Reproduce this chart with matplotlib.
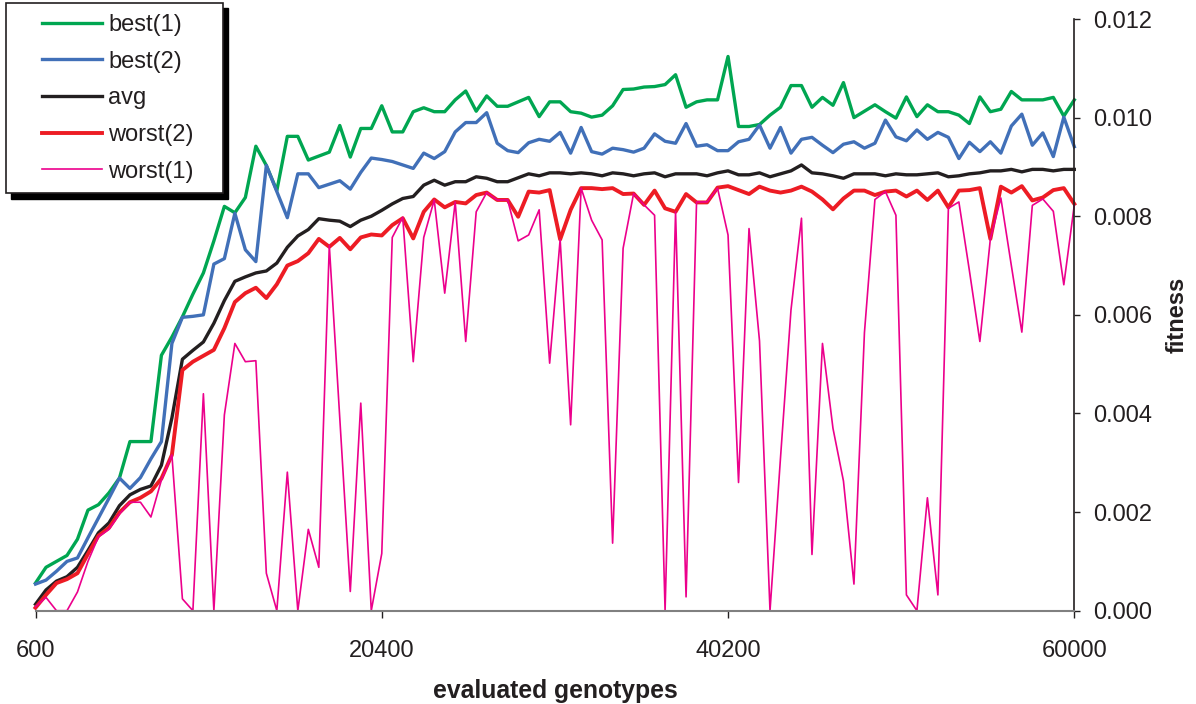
import numpy as np
import matplotlib
matplotlib.use("Agg")
import matplotlib.pyplot as plt
from matplotlib.patches import Rectangle

plt.rcParams["font.family"] = ["Liberation Sans", "DejaVu Sans"]

TEXT = "#231f20"

# x axis: evaluated genotypes, one sample every 600
evaluated = np.arange(600, 60001, 600)

# fitness values (units of 0.001)
best1 = [0.56, 0.88, 1.00, 1.12, 1.45, 2.04, 2.15, 2.39, 2.69, 3.43,
         3.43, 3.43, 5.18, 5.55, 5.96, 6.42, 6.85, 7.50, 8.20, 8.07,
         8.38, 9.42, 9.03, 8.52, 9.62, 9.62, 9.14, 9.22, 9.30, 9.84,
         9.20, 9.78, 9.78, 10.24, 9.71, 9.71, 10.12, 10.20, 10.12, 10.12,
         10.36, 10.54, 10.13, 10.44, 10.23, 10.23, 10.32, 10.41, 10.02, 10.32,
         10.32, 10.12, 10.09, 10.01, 10.05, 10.24, 10.57, 10.58, 10.62, 10.63,
         10.67, 10.87, 10.21, 10.32, 10.36, 10.36, 11.24, 9.82, 9.82, 9.86,
         10.05, 10.21, 10.65, 10.65, 10.21, 10.41, 10.25, 10.71, 10.00, 10.13,
         10.26, 10.12, 9.99, 10.42, 10.02, 10.26, 10.12, 10.12, 10.05, 9.88,
         10.42, 10.12, 10.17, 10.53, 10.36, 10.36, 10.36, 10.41, 10.03, 10.36]

best2 = [0.54, 0.62, 0.80, 1.00, 1.07, 1.48, 1.88, 2.28, 2.69, 2.48,
         2.70, 3.08, 3.43, 5.42, 5.95, 5.97, 6.00, 7.03, 7.14, 8.06,
         7.32, 7.08, 9.03, 8.50, 7.97, 8.86, 8.86, 8.58, 8.65, 8.72,
         8.55, 8.89, 9.18, 9.15, 9.11, 9.04, 8.97, 9.28, 9.17, 9.31,
         9.71, 9.90, 9.90, 10.10, 9.48, 9.33, 9.29, 9.49, 9.56, 9.52,
         9.70, 9.28, 9.80, 9.31, 9.26, 9.38, 9.35, 9.30, 9.38, 9.67,
         9.52, 9.48, 9.88, 9.42, 9.45, 9.33, 9.33, 9.51, 9.56, 9.85,
         9.38, 9.80, 9.28, 9.56, 9.60, 9.44, 9.29, 9.46, 9.51, 9.38,
         9.48, 9.95, 9.61, 9.53, 9.75, 9.56, 9.70, 9.60, 9.17, 9.50,
         9.31, 9.51, 9.28, 9.83, 10.07, 9.44, 9.69, 9.21, 10.01, 9.41]

avg = [0.13, 0.42, 0.60, 0.69, 0.88, 1.22, 1.58, 1.78, 2.13, 2.35,
       2.46, 2.53, 2.95, 3.91, 5.10, 5.28, 5.45, 5.83, 6.29, 6.68,
       6.77, 6.85, 6.89, 7.05, 7.37, 7.60, 7.73, 7.95, 7.92, 7.90,
       7.79, 7.92, 8.00, 8.12, 8.25, 8.36, 8.40, 8.63, 8.73, 8.63,
       8.70, 8.70, 8.80, 8.77, 8.70, 8.70, 8.78, 8.86, 8.82, 8.88,
       8.88, 8.86, 8.88, 8.86, 8.82, 8.88, 8.86, 8.82, 8.86, 8.88,
       8.80, 8.86, 8.86, 8.86, 8.82, 8.88, 8.92, 8.84, 8.84, 8.88,
       8.80, 8.86, 8.92, 9.04, 8.88, 8.86, 8.82, 8.77, 8.86, 8.86,
       8.86, 8.82, 8.86, 8.84, 8.84, 8.86, 8.88, 8.80, 8.82, 8.86,
       8.88, 8.92, 8.92, 8.95, 8.90, 8.95, 8.95, 8.92, 8.95, 8.95]

worst2 = [0.06, 0.32, 0.56, 0.64, 0.76, 1.15, 1.52, 1.68, 1.99, 2.20,
          2.29, 2.42, 2.68, 3.16, 4.88, 5.05, 5.17, 5.29, 5.73, 6.26,
          6.44, 6.55, 6.34, 6.62, 7.00, 7.09, 7.25, 7.54, 7.38, 7.56,
          7.33, 7.57, 7.63, 7.61, 7.82, 7.96, 7.55, 8.09, 8.34, 8.18,
          8.29, 8.26, 8.43, 8.48, 8.33, 8.33, 7.99, 8.50, 8.48, 8.53,
          7.53, 8.13, 8.57, 8.57, 8.55, 8.57, 8.45, 8.46, 8.23, 8.52,
          8.16, 8.09, 8.45, 8.28, 8.28, 8.58, 8.61, 8.53, 8.45, 8.60,
          8.52, 8.48, 8.52, 8.60, 8.50, 8.34, 8.14, 8.36, 8.52, 8.52,
          8.43, 8.50, 8.52, 8.40, 8.52, 8.33, 8.52, 8.18, 8.52, 8.53,
          8.57, 7.54, 8.60, 8.48, 8.61, 8.32, 8.38, 8.53, 8.57, 8.25]

worst1 = [0.08, 0.27, 0.00, 0.00, 0.38, 1.00, 1.50, 1.65, 1.96, 2.20,
          2.20, 1.90, 2.65, 3.16, 0.24, 0.00, 4.40, 0.00, 3.97, 5.42,
          5.05, 5.07, 0.76, 0.00, 2.81, 0.00, 1.65, 0.88, 7.41, 3.90,
          0.39, 4.21, 0.00, 1.16, 7.57, 7.98, 5.05, 7.57, 8.33, 6.44,
          8.29, 5.46, 8.09, 8.48, 8.33, 8.33, 7.50, 7.62, 8.13, 5.02,
          7.53, 3.77, 8.57, 7.92, 7.52, 1.37, 7.35, 8.46, 8.23, 8.02,
          0.00, 8.09, 0.28, 8.29, 8.29, 8.57, 7.62, 2.60, 7.75, 5.47,
          0.00, 3.10, 6.10, 7.96, 1.14, 5.42, 3.70, 2.63, 0.54, 5.64,
          8.34, 8.50, 8.02, 0.32, 0.00, 2.29, 0.32, 8.16, 8.29, 6.90,
          5.46, 7.54, 8.37, 7.00, 5.65, 8.22, 8.35, 8.10, 6.61, 8.23]

labels = ["best(1)", "best(2)", "avg", "worst(2)", "worst(1)"]
colors = ["#00a651", "#4170b8", "#231f20", "#ed1c24", "#ec008c"]
widths = [2.4, 2.4, 2.4, 2.8, 1.2]

W, H = 1196, 704
fig = plt.figure(figsize=(W / 100, H / 100), dpi=100)
ax = fig.add_axes([35.5 / W, 1 - 610.7 / H, (1074.3 - 35.5) / W, (610.7 - 19) / H])

for values, label, color, lw in zip([best1, best2, avg, worst2, worst1], labels, colors, widths):
    ax.plot(evaluated, np.array(values) / 1000, color=color, lw=lw, label=label, clip_on=False)

ax.set_xlim(600, 60000)
ax.set_ylim(0, 0.012)
ax.set_xticks([600, 20400, 40200, 60000])
ax.set_xticklabels(["600", "20400", "40200", "60000"])
ax.set_yticks([0, 0.002, 0.004, 0.006, 0.008, 0.010, 0.012])
ax.set_yticklabels(["%.3f" % v for v in ax.get_yticks()])

ax.yaxis.tick_right()
ax.yaxis.set_label_position("right")
ax.spines["top"].set_visible(False)
ax.spines["left"].set_visible(False)
ax.spines["bottom"].set_color("#808080")
ax.spines["bottom"].set_linewidth(1.5)
ax.spines["right"].set_color(TEXT)
ax.spines["right"].set_linewidth(1.2)

ax.tick_params(axis="x", length=5, width=1, pad=16, labelsize=17,
               color=TEXT, labelcolor=TEXT)
ax.tick_params(axis="y", length=4.5, width=1, pad=9, labelsize=17,
               color=TEXT, labelcolor=TEXT)

ax.set_xlabel("evaluated genotypes", fontsize=17.8, fontweight="bold", color=TEXT, labelpad=12)
ax.set_ylabel("fitness", fontsize=17, fontweight="bold", color=TEXT, labelpad=10)

# legend box with a solid drop shadow
bx0, by0, bx1, by1 = 5.7, 2.7, 222.7, 193.0
shadow = Rectangle(((bx0 + 5.5) / W, 1 - (by1 + 5.5) / H), (bx1 - bx0) / W, (by1 - by0) / H,
                   transform=fig.transFigure, facecolor="black", edgecolor="black", zorder=3)
box = Rectangle((bx0 / W, 1 - by1 / H), (bx1 - bx0) / W, (by1 - by0) / H,
                transform=fig.transFigure, facecolor="white", edgecolor=TEXT, lw=1.2, zorder=3.1)
fig.add_artist(shadow)
fig.add_artist(box)

leg = fig.legend(loc="upper left", bbox_to_anchor=(41.7 / W, 1 - 14 / H), frameon=False,
                 borderpad=0, borderaxespad=0, handlelength=2.54, handletextpad=0.27,
                 labelspacing=0.62, fontsize=17)
leg.set_zorder(4)
for t in leg.get_texts():
    t.set_color(TEXT)

fig.savefig("out.png", dpi=100)
